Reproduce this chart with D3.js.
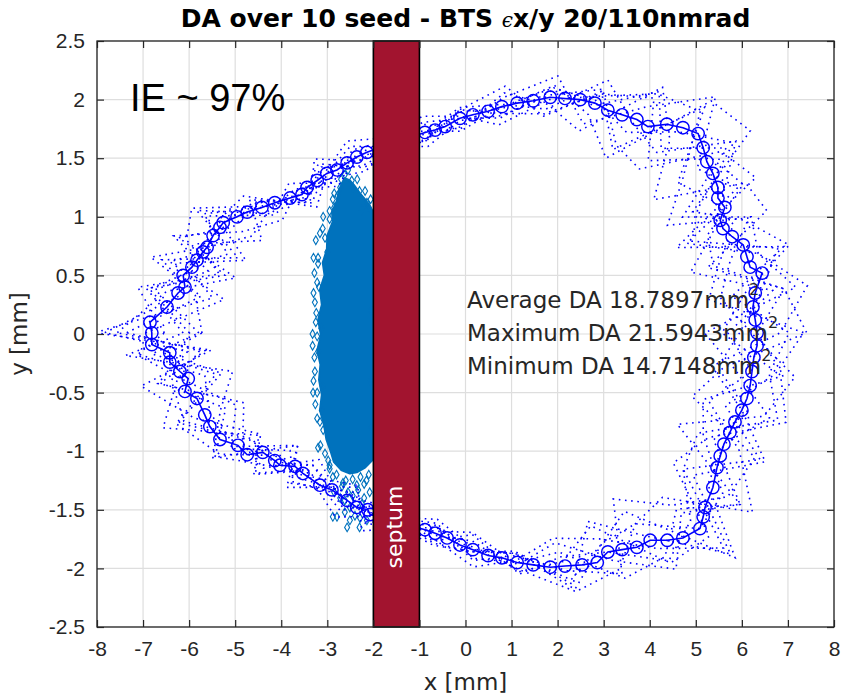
<!DOCTYPE html>
<html>
<head>
<meta charset="utf-8">
<script src="https://cdn.jsdelivr.net/npm/d3@7"></script>
<style>
  body { margin: 0; background: #fff; }
  svg { display: block; }
</style>
</head>
<body>
<svg id="chart" width="846" height="697"></svg>
<script>
// ---- data -------------------------------------------------------------
const xTicks = [-8, -7, -6, -5, -4, -3, -2, -1, 0, 1, 2, 3, 4, 5, 6, 7, 8];
const yTicks = [-2.5, -2, -1.5, -1, -0.5, 0, 0.5, 1, 1.5, 2, 2.5];

// average dynamic-aperture boundary (mm), traced clockwise from the left
const meanX = [-6.81,-6.85,-6.48,-6.24,-6.09,-6.13,-5.94,-5.83,-5.70,-5.61,
  -5.48,-5.33,-5.26,-4.96,-4.74,-4.42,-4.14,-3.81,-3.55,-3.44,
  -3.22,-3.01,-2.79,-2.57,-2.36,-2.14,-1.50,-0.88,-0.66,-0.44,
  -0.12,0.16,0.49,0.79,1.12,1.47,1.84,2.16,2.49,2.81,
  3.09,3.40,3.72,3.96,4.37,4.72,5.05,5.16,5.24,5.37,
  5.48,5.48,5.63,5.53,5.59,5.79,6.03,6.11,6.18,6.44,
  6.29,6.24,6.29,6.33,6.33,6.26,6.22,6.18,6.11,6.00,
  5.85,5.74,5.61,5.53,5.46,5.37,5.20,5.16,5.09,4.72,
  4.38,4.01,3.72,3.40,3.09,2.86,2.53,2.16,1.84,1.47,
  1.12,0.79,0.49,0.16,-0.12,-0.40,-0.66,-0.88,-1.50,-2.07,
  -2.12,-2.36,-2.57,-2.90,-3.16,-3.53,-3.70,-4.03,-4.14,-4.40,
  -4.74,-4.94,-5.33,-5.55,-5.66,-5.83,-6.09,-6.02,-6.20,-6.42,
  -6.42,-6.81];
const meanY = [0.01,0.10,0.23,0.35,0.40,0.50,0.57,0.63,0.70,0.74,
  0.84,0.91,0.95,1.00,1.04,1.08,1.12,1.16,1.19,1.25,
  1.31,1.37,1.40,1.46,1.51,1.55,1.64,1.72,1.74,1.77,
  1.84,1.87,1.90,1.94,1.97,1.99,2.02,2.01,2.00,1.97,
  1.91,1.87,1.83,1.77,1.79,1.76,1.71,1.59,1.47,1.37,
  1.25,1.16,1.08,0.97,0.90,0.83,0.76,0.66,0.57,0.52,
  0.35,0.23,0.12,0.01,-0.10,-0.20,-0.32,-0.44,-0.55,-0.65,
  -0.75,-0.84,-0.94,-1.04,-1.14,-1.31,-1.48,-1.56,-1.66,-1.74,
  -1.76,-1.76,-1.82,-1.84,-1.86,-1.95,-1.97,-1.98,-1.99,-1.97,
  -1.95,-1.91,-1.89,-1.84,-1.80,-1.74,-1.70,-1.67,-1.60,-1.54,
  -1.50,-1.48,-1.42,-1.33,-1.29,-1.19,-1.13,-1.12,-1.08,-1.01,
  -1.03,-0.95,-0.90,-0.79,-0.69,-0.55,-0.49,-0.38,-0.32,-0.24,
  -0.16,-0.09];

// rays (indices into the average boundary) on which each seed was tracked
const seedRays = [0,3,6,9,12,15,18,21,24,27,30,33,36,39,42,45,48,51,54,57,
  60,63,66,69,72,75,78,81,84,87,90,93,96,99,102,105,108,111,114,117,120];

// per-seed aperture along each ray, in percent of the average radius
const seedRatios = [
  [108,92,115,100,88, 97,104,92,100, 96,103,99,105,95, 82,113,118,90,108,115,96, 88,110,116,94,84, 104,111,88,98, 104,96,101,95, 106,97,110,91, 116,104,90],
  [90,111,88,108,113, 101,95,109,98, 104,95,106,97,88, 115,94,78,111,117,86,110, 117,90,82,112,106, 88,80,110,102, 97,105,96,104, 92,110,88,111, 94,84,115],
  [115,98,106,85,102, 109,91,100,106, 93,99,96,101,106, 88,80,106,115,86,104,118, 108,86,100,116,92, 113,98,86,108, 95,101,106,99, 103,90,106,98, 85,111,94],
  [85,108,94,113,92, 90,103,97,92, 108,101,92,99,103, 112,108,90,80,110,94,88, 98,115,108,82,111, 92,114,104,90, 101,92,99,105, 96,103,96,108, 111,90,106],
  [118,88,102,92,108, 100,98,104,95, 100,105,101,95,110, 98,88,112,102,96,80,106, 90,100,88,106,116, 84,92,108,111, 103,99,93,101, 110,98,111,90, 104,117,86],
  [96,114,90,104,84, 106,94,101,109, 99,96,104,109,91, 106,115,96,108,82,113,92, 111,106,113,90,88, 110,104,94,88, 99,108,103,94, 98,106,92,103, 88,102,111],
  [84,94,111,88,111, 95,108,94,101, 105,100,95,103,99, 113,90,108,86,111,104,114, 82,94,110,100,98, 115,86,96,110, 96,100,97,109, 91,101,98,95, 110,88,102],
  [111,104,84,111,96, 103,100,106,94, 97,104,109,92,105, 86,110,88,98,104,90,84, 116,108,94,114,88, 96,110,100,96, 105,93,104,97, 101,94,104,110, 92,110,88],
  [102,84,108,98,106, 94,101,95,104, 101,94,100,104,101, 94,98,111,92,88,111,102, 94,88,102,96,111, 90,108,112,94, 100,104,95,100, 95,107,88,101, 98,94,110],
  [88,110,98,102,100, 104,97,103,98, 96,104,97,93,104, 110,84,102,110,94,88,110, 100,111,86,92,104, 100,92,96,106, 96,101,105,96, 104,94,101,94, 108,106,96]
];

// injected-beam distribution: dense core outline and scattered particles (mm)
const coreX = [-2.62,-2.75,-2.79,-2.90,-2.88,-3.00,-3.01,-3.10,-3.06,-3.16,
  -3.12,-3.20,-3.14,-3.22,-3.15,-3.18,-3.12,-3.16,-3.07,-3.02,
  -2.92,-2.86,-2.70,-2.51,-2.36,-2.18,-2.03,-2.03,-2.16,-2.29,
  -2.42,-2.51];
const coreY = [1.33,1.23,1.14,1.04,0.96,0.84,0.72,0.61,0.50,0.38,
  0.25,0.12,-0.01,-0.14,-0.26,-0.39,-0.52,-0.65,-0.78,-0.90,
  -1.01,-1.09,-1.16,-1.19,-1.18,-1.14,-1.08,1.06,1.14,1.20,
  1.27,1.31];
const haloX = [-2.62,-2.47,-2.72,-2.45,-2.85,-2.30,-2.14,-2.25,-3.09,-3.16,-2.95,-2.10,-3.05,-2.88,-2.70,
  -3.20,-3.22,-3.27,-3.25,-3.22,-3.20,-3.27,-3.22,-3.12,-3.09,-3.20,-3.16,-2.98,-2.88,-2.66,
  -2.33,-2.51,-2.79,-2.29,-2.57,-2.14,-2.10,-2.20,-2.45,-2.62,-2.40,-2.68,-2.85,-2.95,-2.25,
  -2.88,-2.51,-2.36,-3.18,-3.10,-2.05,-2.06,-2.04,-3.00,-3.13,
  -3.25,-3.20,-3.28,-3.30,-3.24,-3.32,-3.28,-3.30,-3.26,-3.22,-3.15,-3.05,-2.95,-2.80,-2.60,
  -2.45,-2.28,-2.15,-2.08,-2.20,-2.55,-2.72,-2.30,-2.62,-2.95,-2.85,-2.78,-2.55,-2.35,-2.18,
  -2.06,-3.10,-3.30,-3.32,-3.31];
const haloY = [1.36,1.31,1.25,1.25,1.20,1.22,1.12,1.06,1.00,0.86,1.05,1.08,0.82,1.15,1.32,
  0.60,0.44,0.27,0.10,-0.02,-0.15,-0.32,-0.50,-0.65,-0.82,-0.97,-0.75,-1.08,-1.22,-1.27,
  -1.33,-1.48,-1.56,-1.57,-1.65,-1.59,-1.20,-1.28,-1.38,-1.42,-1.55,-1.30,-1.35,-1.15,-1.45,
  -1.56,-1.59,-1.29,0.40,-0.45,0.20,-0.40,-0.80,0.70,0.05,
  0.80,0.65,0.52,0.35,0.18,0.00,-0.20,-0.40,-0.60,-0.72,-0.95,-1.02,-1.12,-1.20,-1.25,
  -1.24,-1.22,-1.25,-1.35,-1.40,-1.35,-1.40,-1.65,-1.52,0.98,1.08,1.18,1.40,1.32,1.22,
  1.15,0.90,0.65,-0.10,-0.50];

const septum = { x0: -2, x1: -1, label: "septum" };
const statLabels = ["Average DA 18.7897mm", "Maximum DA 21.5943mm", "Minimum DA 14.7148mm"];
const titleParts = ["DA over 10 seed - BTS ", "\u03F5", "x/y 20/110nmrad"];
const efficiencyLabel = "IE ~ 97%";

// ---- layout -----------------------------------------------------------
const W = 846, H = 697;
const plot = { left: 97, right: 834, top: 41, bottom: 627 };
const axisColor = "#262626";
const tickFont = "DejaVu Sans, sans-serif";

const x = d3.scaleLinear().domain([-8, 8]).range([plot.left, plot.right]);
const y = d3.scaleLinear().domain([-2.5, 2.5]).range([plot.bottom, plot.top]);

const svg = d3.select("#chart");
svg.append("rect").attr("width", W).attr("height", H).attr("fill", "#fff");

svg.append("defs").append("clipPath").attr("id", "plotClip")
  .append("rect")
  .attr("x", plot.left).attr("y", plot.top)
  .attr("width", plot.right - plot.left).attr("height", plot.bottom - plot.top);

// grid
const grid = svg.append("g").attr("stroke", "#dedede").attr("stroke-width", 1.2);
grid.selectAll("line.gx").data(xTicks).join("line")
  .attr("x1", d => x(d)).attr("x2", d => x(d))
  .attr("y1", plot.top).attr("y2", plot.bottom);
grid.selectAll("line.gy").data(yTicks).join("line")
  .attr("y1", d => y(d)).attr("y2", d => y(d))
  .attr("x1", plot.left).attr("x2", plot.right);

const body = svg.append("g").attr("clip-path", "url(#plotClip)");

// injected beam
body.append("path")
  .datum(coreX.map((v, i) => [v, coreY[i]]))
  .attr("d", d3.line().x(d => x(d[0])).y(d => y(d[1])).curve(d3.curveLinearClosed))
  .attr("fill", "#0072BD").attr("stroke", "#0072BD").attr("stroke-width", 2)
  .attr("stroke-linejoin", "round");
const diamond = d3.symbol().type(d3.symbolDiamond).size(22);
body.append("g").selectAll("path").data(haloX.map((v, i) => [v, haloY[i]])).join("path")
  .attr("transform", d => `translate(${x(d[0])},${y(d[1])})`)
  .attr("d", diamond)
  .attr("fill", "none").attr("stroke", "#0072BD").attr("stroke-width", 1.1);

// individual seeds: dotted
const lineXY = d3.line().x(d => x(d[0])).y(d => y(d[1]));
seedRatios.forEach(ratios => {
  const pts = seedRays.map((k, j) => [meanX[k] * ratios[j] / 100, meanY[k] * ratios[j] / 100]);
  body.append("path")
    .attr("d", lineXY(pts) + "Z")
    .attr("fill", "none").attr("stroke", "#0000ff")
    .attr("stroke-width", 1.6).attr("stroke-dasharray", "1.6 4.6");
});

// average boundary with circle markers
const meanPts = meanX.map((v, i) => [v, meanY[i]]);
body.append("path")
  .attr("d", lineXY(meanPts) + "Z")
  .attr("fill", "none").attr("stroke", "#0000ff").attr("stroke-width", 1.6);
body.append("g").selectAll("circle").data(meanPts).join("circle")
  .attr("cx", d => x(d[0])).attr("cy", d => y(d[1])).attr("r", 6.2)
  .attr("fill", "none").attr("stroke", "#0000ff").attr("stroke-width", 1.45);

// septum
svg.append("rect")
  .attr("x", x(septum.x0)).attr("y", y(2.5))
  .attr("width", x(septum.x1) - x(septum.x0)).attr("height", y(-2.5) - y(2.5))
  .attr("fill", "#A2142F").attr("stroke", "#000").attr("stroke-width", 1.6);
svg.append("text")
  .attr("transform", `translate(${(x(septum.x0) + x(septum.x1)) / 2},527) rotate(-90)`)
  .attr("text-anchor", "middle").attr("dy", "0.27em")
  .attr("font-family", tickFont).attr("font-size", 22).attr("fill", "#fff")
  .text(septum.label);

// axes (inward ticks on all four sides)
const tickLen = 7;
const fmt = d => String(d);
const ax = svg.append("g").attr("font-family", tickFont);
const bottomAxis = ax.append("g").attr("transform", `translate(0,${plot.bottom})`)
  .call(d3.axisBottom(x).tickValues(xTicks).tickFormat(fmt).tickSizeInner(-tickLen).tickSizeOuter(0).tickPadding(14));
const leftAxis = ax.append("g").attr("transform", `translate(${plot.left},0)`)
  .call(d3.axisLeft(y).tickValues(yTicks).tickFormat(fmt).tickSizeInner(-tickLen).tickSizeOuter(0).tickPadding(12));
const topAxis = ax.append("g").attr("transform", `translate(0,${plot.top})`)
  .call(d3.axisTop(x).tickValues(xTicks).tickFormat("").tickSizeInner(-tickLen).tickSizeOuter(0));
const rightAxis = ax.append("g").attr("transform", `translate(${plot.right},0)`)
  .call(d3.axisRight(y).tickValues(yTicks).tickFormat("").tickSizeInner(-tickLen).tickSizeOuter(0));
[bottomAxis, leftAxis, topAxis, rightAxis].forEach(g => {
  g.select(".domain").remove();
  g.selectAll(".tick line").attr("stroke", axisColor).attr("stroke-width", 1.2);
  g.selectAll(".tick text").attr("fill", axisColor).attr("font-size", 21);
});
ax.append("rect")
  .attr("x", plot.left).attr("y", plot.top)
  .attr("width", plot.right - plot.left).attr("height", plot.bottom - plot.top)
  .attr("fill", "none").attr("stroke", axisColor).attr("stroke-width", 1.3);

// axis labels
svg.append("text")
  .attr("x", (plot.left + plot.right) / 2).attr("y", 690)
  .attr("text-anchor", "middle").attr("font-family", tickFont).attr("font-size", 23)
  .attr("fill", axisColor).text("x [mm]");
svg.append("text")
  .attr("transform", `translate(27,${(plot.top + plot.bottom) / 2}) rotate(-90)`)
  .attr("text-anchor", "middle").attr("font-family", tickFont).attr("font-size", 23)
  .attr("fill", axisColor).text("y [mm]");

// title
const title = svg.append("text")
  .attr("x", (plot.left + plot.right) / 2).attr("y", 27)
  .attr("text-anchor", "middle").attr("font-family", tickFont)
  .attr("font-size", 25).attr("font-weight", "bold").attr("fill", "#000");
title.append("tspan").text(titleParts[0]);
title.append("tspan").attr("font-family", "DejaVu Serif, serif").attr("font-style", "italic")
  .attr("font-weight", "normal").attr("font-size", 20).text(titleParts[1]);
title.append("tspan").text(titleParts[2]);

// DA statistics
statLabels.forEach((s, i) => {
  const t = svg.append("text")
    .attr("x", 467).attr("y", 308 + i * 33)
    .attr("font-family", tickFont).attr("font-size", 23).attr("fill", axisColor);
  t.append("tspan").text(s);
  t.append("tspan").attr("font-size", 16).attr("dy", -13).text("2");
});

// injection efficiency
svg.append("text")
  .attr("x", 130).attr("y", 111)
  .attr("font-family", "Liberation Sans, Arial, sans-serif").attr("font-size", 38)
  .attr("fill", "#000").text(efficiencyLabel);
</script>
</body>
</html>
